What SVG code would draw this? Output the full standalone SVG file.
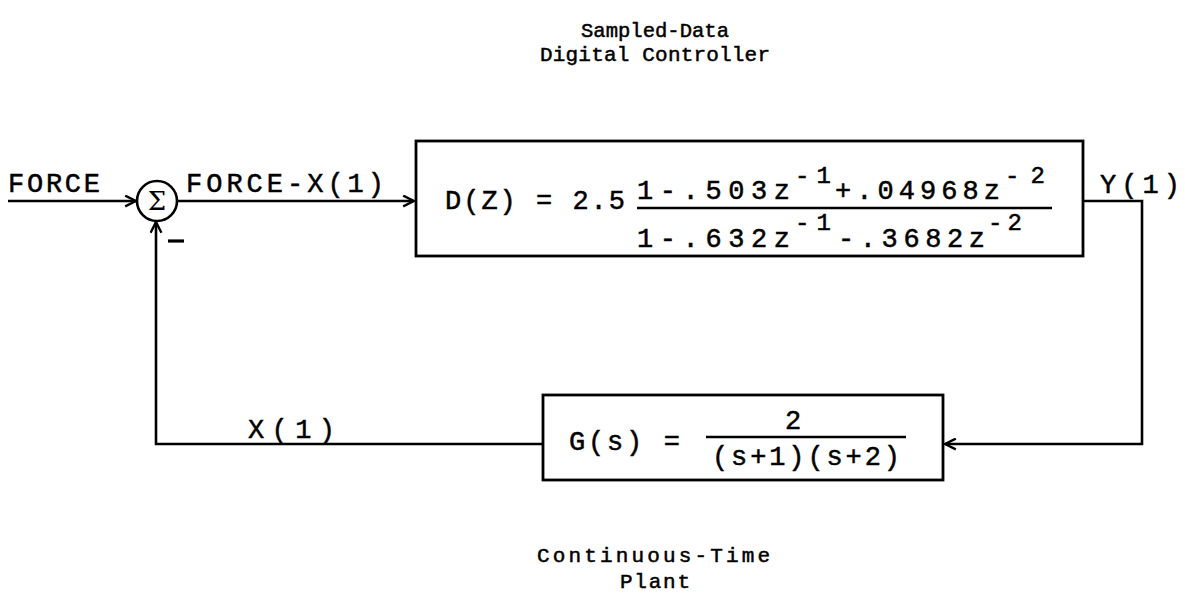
<svg xmlns="http://www.w3.org/2000/svg" width="1185" height="608" viewBox="0 0 1185 608">
<defs>
<marker id="arr" viewBox="0 0 12 12" refX="11" refY="6" markerWidth="13" markerHeight="13" markerUnits="userSpaceOnUse" orient="auto">
<path d="M1,1 L11,6 L1,11" fill="none" stroke="#000" stroke-width="2.2"/>
</marker>
<style>
.t{font-family:"Liberation Mono","DejaVu Sans Mono",monospace;font-size:27px;fill:#000;stroke:#000;stroke-width:0.5}
.h{font-family:"Liberation Mono","DejaVu Sans Mono",monospace;font-size:21px;fill:#000;stroke:#000;stroke-width:0.5}
.s{font-family:"Liberation Mono","DejaVu Sans Mono",monospace;font-size:24px;fill:#000;stroke:#000;stroke-width:0.5}
.ln{fill:none;stroke:#000;stroke-width:2.6}
.box{fill:#fff;stroke:#000;stroke-width:2.8}
</style>
</defs>
<rect width="1185" height="608" fill="#fff"/>

<g id="title-top">
<text class="h" x="581" y="37" textLength="148" lengthAdjust="spacingAndGlyphs">Sampled-Data</text>
<text class="h" x="540" y="61" textLength="230" lengthAdjust="spacing">Digital Controller</text>
</g>

<g id="title-bottom">
<text class="h" x="537" y="562" textLength="233" lengthAdjust="spacing">Continuous-Time</text>
<text class="h" x="620" y="588" textLength="70" lengthAdjust="spacing">Plant</text>
</g>

<g id="connectors">
<line class="ln" x1="8" y1="201" x2="136" y2="201" marker-end="url(#arr)"/>
<line class="ln" x1="177" y1="201" x2="414" y2="201" marker-end="url(#arr)"/>
<polyline class="ln" points="1083,201 1142,201 1142,444 945,444" marker-end="url(#arr)"/>
<polyline class="ln" points="543,444 156,444 156,222" marker-end="url(#arr)"/>
</g>

<g id="labels">
<text class="t" x="8" y="192" textLength="92" lengthAdjust="spacing">FORCE</text>
<text class="t" x="186" y="192" textLength="198" lengthAdjust="spacing">FORCE-X(1)</text>
<text class="t" x="1100" y="193" textLength="80" lengthAdjust="spacing">Y(1)</text>
<text class="t" x="248" y="438" textLength="87" lengthAdjust="spacing">X(1)</text>
</g>

<g id="sum">
<circle cx="157" cy="201" r="20" fill="#fff" stroke="#000" stroke-width="2.6"/>
<text x="157" y="210" text-anchor="middle" style="font-family:'DejaVu Serif','Liberation Serif',serif;font-size:26px">Σ</text>
<line x1="168" y1="241" x2="184" y2="241" stroke="#000" stroke-width="3.2"/>
</g>

<g id="controller">
<rect class="box" x="416" y="141" width="667" height="115"/>
<text class="t" x="445" y="209" textLength="180" lengthAdjust="spacing">D(Z) = 2.5</text>
<text class="t" x="637" y="199" textLength="153" lengthAdjust="spacing">1-.503z</text>
<text class="s" x="795" y="183" textLength="36" lengthAdjust="spacing">-1</text>
<text class="t" x="835" y="199" textLength="165" lengthAdjust="spacing">+.04968z</text>
<text class="s" x="1005" y="183" textLength="40" lengthAdjust="spacing">-2</text>
<line x1="637" y1="208" x2="1052" y2="208" stroke="#000" stroke-width="2.4"/>
<text class="t" x="637" y="247" textLength="153" lengthAdjust="spacing">1-.632z</text>
<text class="s" x="795" y="230" textLength="36" lengthAdjust="spacing">-1</text>
<text class="t" x="838" y="247" textLength="147" lengthAdjust="spacing">-.3682z</text>
<text class="s" x="988" y="230" textLength="34" lengthAdjust="spacing">-2</text>
</g>

<g id="plant">
<rect class="box" x="543" y="395" width="400" height="85"/>
<text class="t" x="569" y="450" textLength="111" lengthAdjust="spacing">G(s) =</text>
<text class="t" x="793" y="429" text-anchor="middle">2</text>
<line x1="706" y1="437" x2="906" y2="437" stroke="#000" stroke-width="2.4"/>
<text class="t" x="712" y="465" textLength="188" lengthAdjust="spacing">(s+1)(s+2)</text>
</g>
</svg>
